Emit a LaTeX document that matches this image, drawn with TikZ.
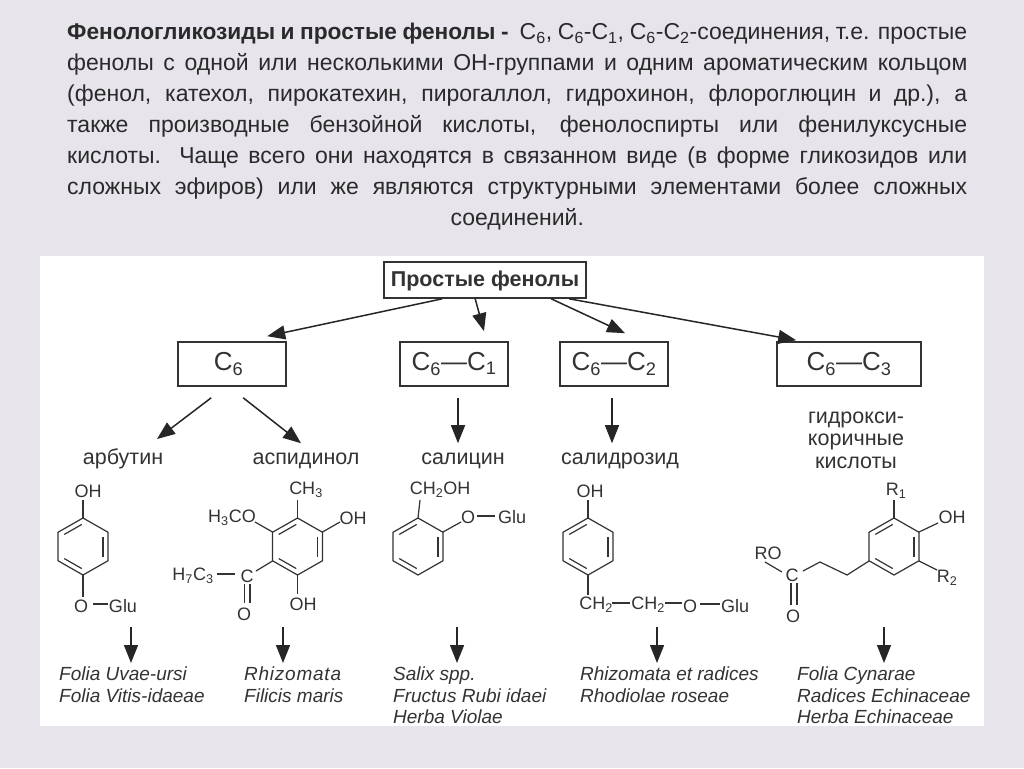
\documentclass[tikz,border=0pt]{standalone}
\usepackage{fontspec}
\setmainfont{Liberation Sans}
\usetikzlibrary{arrows.meta}
\definecolor{pagebg}{HTML}{E7E4EC}
\definecolor{ink}{HTML}{333333}
\definecolor{titleink}{HTML}{2A2A2A}
\newcommand\sbs[1]{\textsubscript{#1}}
\newcommand\benzring[2]{%
  \begin{scope}[shift={(#1,#2)}]
    \draw[bond] (0,-28.5)--(25,-14.25)--(25,14.25)--(0,28.5)--(-25,14.25)--(-25,-14.25)--cycle;
    \draw[bond] (20,-10)--(20,10);
    \draw[bond] (-18.75,-12.05)--(-1.25,-22.05);
    \draw[bond] (-18.75,12.05)--(-1.25,22.05);
  \end{scope}}
\tikzset{
  x=1pt,y=-1pt,
  bond/.style={draw=ink,line width=1.2pt,line join=round},
  box/.style={draw=ink,line width=1.6pt,inner sep=0pt,text=ink,font=\fontsize{26}{28}\selectfont,minimum height=44pt},
  flow/.style={draw=black!85,line width=1.5pt,-{Triangle[length=18pt,width=14pt]}},
  plain/.style={inner sep=0pt,anchor=base,text=ink,font=\fontsize{21.5}{22.5}\selectfont},
  chem/.style={inner sep=0pt,text=ink,font=\fontsize{18}{20}\selectfont},
  latin/.style={inner sep=0pt,anchor=base west,text=ink,font=\fontsize{19}{20}\selectfont\itshape},
}
\begin{document}
\begin{tikzpicture}
\useasboundingbox (0,0) rectangle (1024,768);
\fill[pagebg] (0,0) rectangle (1024,768);
\fill[white] (40,256) rectangle (984,726);

% heading text
\node[anchor=north west,inner sep=0pt,text width=900pt,align=justify,text=titleink,
      font=\fontsize{23}{30.9}\selectfont] (para) at (67,23)
 {\textbf{\fontsize{22.7}{30.9}\selectfont Фенологликозиды и простые фенолы -} \ C\sbs{6}, C\sbs{6}-C\sbs{1}, C\sbs{6}-C\sbs{2}-соединения, т.е. простые\linebreak
 фенолы с одной или несколькими ОН-группами и одним ароматическим кольцом\linebreak
 (фенол, катехол, пирокатехин, пирогаллол, гидрохинон, флороглюцин и др.), а\linebreak
 также производные бензойной кислоты, фенолоспирты или фенилуксусные\linebreak
 кислоты. Чаще всего они находятся в связанном виде (в форме гликозидов или\linebreak
 сложных эфиров) или же являются структурными элементами более сложных\linebreak
 \hspace*{\fill}соединений.\hspace*{\fill}\null};

% class boxes
\node[draw=ink,line width=1.6pt,inner sep=0pt,minimum width=202pt,minimum height=36pt,text=black!80,
      text height=15pt,text depth=2pt,
      font=\bfseries\fontsize{21.5}{22}\selectfont] (top) at (485,280) {Простые фенолы};
\node[box,minimum width=108pt] (c6) at (232,364) {\hspace*{-7pt}C\sbs{6}};
\node[box,minimum width=108pt] (c1) at (454,364) {C\sbs{6}—C\sbs{1}};
\node[box,minimum width=108pt] (c2) at (614,364) {C\sbs{6}—C\sbs{2}};
\node[box,minimum width=144pt] (c3) at (849,364) {C\sbs{6}—C\sbs{3}};

\draw[flow] ([xshift=59pt]top.south west) -- ([xshift=90pt,yshift=5pt]c6.north west);
\draw[flow] ([xshift=92pt]top.south west) -- ([xshift=30pt,yshift=10pt]c1.north);
\draw[flow] ([xshift=168pt]top.south west) -- ([xshift=11pt,yshift=8pt]c2.north);
\draw[flow] ([xshift=186pt]top.south west) -- ([xshift=20pt,yshift=1pt]c3.north west);

% compound names
\node[plain] (arb) at (123,464) {арбутин};
\node[plain] (asp) at (306,464) {аспидинол};
\node[plain] (sal) at (463,464) {салицин};
\node[plain] (sld) at (620,464) {салидрозид};
\node[inner sep=0pt,text=ink,font=\fontsize{21.5}{22.5}\selectfont,align=center] (hyd) at (856,440) {гидрокси-\\коричные\\кислоты};

\draw[flow] ([xshift=34pt,yshift=-11pt]c6.south west) -- ([xshift=34pt,yshift=9pt]arb.north);
\draw[flow] ([xshift=66pt,yshift=-11pt]c6.south west) -- ([xshift=-5pt,yshift=9pt]asp.north);
\draw[flow] ([xshift=4pt,yshift=-11pt]c1.south) -- ([xshift=-5pt,yshift=9pt]sal.north);
\draw[flow] ([xshift=-2pt,yshift=-11pt]c2.south) -- ([xshift=-8pt,yshift=9pt]sld.north);

% arbutin
\benzring{83}{546.5}
\node[chem] (a1) at (88,491) {OH};
\node[chem] (a2) at (81,606) {O};
\node[chem] (a3) at (123,606) {Glu};
\draw[bond] (83,518)--(83,500);
\draw[bond] (83,575)--(83,597);
\draw[bond] (93,604)--(108,604);

% aspidinol
\benzring{297.5}{546.5}
\node[chem] (b1) at (306,490) {CH\sbs{3}};
\node[chem] (b2) at (232,518) {H\sbs{3}CO};
\node[chem] (b3) at (353,518) {OH};
\node[chem] (b4) at (303,604) {OH};
\node[chem] (b5) at (247,576) {C};
\node[chem] (b6) at (193,576) {H\sbs{7}C\sbs{3}};
\node[chem] (b7) at (244,614) {O};
\draw[bond] (297.5,518)--(297.5,500);
\draw[bond] (272.5,532)--(255,522);
\draw[bond] (322.5,532)--(340,522);
\draw[bond] (297.5,575)--(297.5,594);
\draw[bond] (272.5,561)--(256,571);
\draw[bond] (217,574)--(235,574);
\draw[bond] (244.5,584)--(244.5,603);
\draw[bond] (250,584)--(250,603);

% salicin
\benzring{418}{546.5}
\node[chem] (s1) at (440,490) {CH\sbs{2}OH};
\node[chem] (s2) at (468,517) {O};
\node[chem] (s3) at (512,517) {Glu};
\draw[bond] (418,518)--(420,500);
\draw[bond] (443,532)--(461,522);
\draw[bond] (477,516)--(495,516);

% salidroside
\benzring{588}{546.5}
\node[chem] (d1) at (590,491) {OH};
\node[chem] (d2) at (596,605) {CH\sbs{2}};
\node[chem] (d3) at (648,605) {CH\sbs{2}};
\node[chem] (d4) at (690,606) {O};
\node[chem] (d5) at (735,606) {Glu};
\draw[bond] (588,518)--(588,500);
\draw[bond] (588,575)--(588,595);
\draw[bond] (612,603)--(630,603);
\draw[bond] (665,603)--(682,603);
\draw[bond] (700,604)--(720,604);

% hydroxycinnamic acids
\benzring{894}{546.5}
\node[chem] (h1) at (896,491) {R\sbs{1}};
\node[chem] (h2) at (952,517) {OH};
\node[chem] (h3) at (947,578) {R\sbs{2}};
\node[chem] (h4) at (792,575) {C};
\node[chem] (h5) at (768,553) {RO};
\node[chem] (h6) at (793,616) {O};
\draw[bond] (894,518)--(894,500);
\draw[bond] (919,532)--(938,523);
\draw[bond] (919,561)--(937,570);
\draw[bond] (869,561)--(847,575)--(820,562)--(803,571);
\draw[bond] (765,562)--(782,572);
\draw[bond] (791,583)--(791,605);
\draw[bond] (797,583)--(797,605);

% sources
\node[latin] (f1a) at (59,680) {Folia Uvae-ursi};
\node[latin] (f1b) at (59,702) {Folia Vitis-idaeae};
\node[latin] (f2a) at (244,680) {\addfontfeature{LetterSpace=4}Rhizomata};
\node[latin] (f2b) at (244,702) {Filicis maris};
\node[latin] (f3a) at (393,680) {Salix spp.};
\node[latin] (f3b) at (393,702) {Fructus Rubi idaei};
\node[latin] (f3c) at (393,723) {Herba Violae};
\node[latin] (f4a) at (580,680) {Rhizomata et radices};
\node[latin] (f4b) at (580,702) {Rhodiolae roseae};
\node[latin] (f5a) at (797,680) {Folia Cynarae};
\node[latin] (f5b) at (797,702) {Radices Echinaceae};
\node[latin] (f5c) at (797,723) {Herba Echinaceae};

\coordinate (e1) at (131,627);
\coordinate (e2) at (283,627);
\coordinate (e3) at (457,627);
\coordinate (e4) at (657,627);
\coordinate (e5) at (884,627);
\draw[flow] (e1) -- (131,663);
\draw[flow] (e2) -- (283,663);
\draw[flow] (e3) -- (457,663);
\draw[flow] (e4) -- (657,663);
\draw[flow] (e5) -- (884,663);
\end{tikzpicture}
\end{document}
